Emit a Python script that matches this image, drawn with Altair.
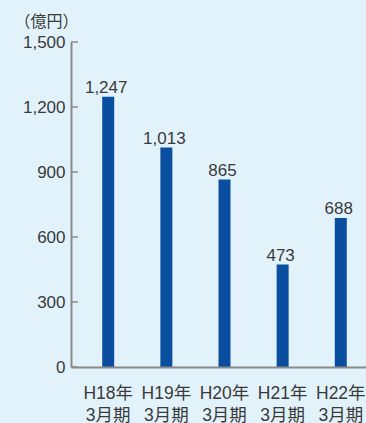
import altair as alt
import pandas as pd

years = ["H18年", "H19年", "H20年", "H21年", "H22年"]
periods = ["3月期", "3月期", "3月期", "3月期", "3月期"]
values = [1247, 1013, 865, 473, 688]
y_ticks = [0, 300, 600, 900, 1200, 1500]

cats = [f"{y}|{p}" for y, p in zip(years, periods)]
df = pd.DataFrame({"cat": cats, "value": values})
ticks_df = pd.DataFrame({"v": y_ticks})

FONT = "Liberation Sans, Arial, Noto Sans CJK JP, sans-serif"
TEXT = "#3a3a3a"
AXIS = "#8a8a8a"
BAR = "#0a4e9f"
BG = "#e2f2fb"

xscale = alt.Scale(range=[0, 307], paddingInner=0, paddingOuter=0.14)
yscale = alt.Scale(domain=[0, 1500], nice=False, zero=True, range=[325, 0])

xenc = alt.X(
    "cat:N", sort=cats, scale=xscale,
    axis=alt.Axis(
        title=None, labelAngle=0, ticks=False, tickSize=0,
        labelExpr="split(datum.label, '|')",
        labelFont=FONT, labelFontSize=17.5, labelLineHeight=22,
        labelPadding=17, labelColor=TEXT,
        domainColor=AXIS, domainWidth=2, zindex=1,
    ),
)
yenc = alt.Y(
    "value:Q", scale=yscale,
    axis=alt.Axis(
        values=y_ticks, format=",d", grid=False, ticks=False, tickSize=0,
        labelFont=FONT, labelFontSize=17, labelColor=TEXT, labelPadding=6,
        domainColor=AXIS, domainWidth=2, zindex=1,
        title="（億円）", titleAngle=0, titleAlign="left", titleBaseline="middle",
        titleX=-57, titleY=-21, titleFont=FONT, titleFontSize=16,
        titleFontWeight="normal", titleColor=TEXT,
    ),
)

bars = alt.Chart(df).mark_bar(size=12, color=BAR).encode(x=xenc, y=yenc)
labels = alt.Chart(df).mark_text(
    dy=-4, dx=-2, baseline="alphabetic", align="center",
    font=FONT, fontSize=17, color=TEXT,
).encode(
    x=alt.X("cat:N", sort=cats, scale=xscale),
    y=alt.Y("value:Q", scale=yscale),
    text=alt.Text("value:Q", format=",d"),
)
tick_marks = alt.Chart(ticks_df).mark_rule(color=AXIS, strokeWidth=1.5).encode(
    y=alt.Y("v:Q", scale=yscale), x=alt.value(0), x2=alt.value(7)
)

chart = alt.layer(bars, tick_marks, labels).properties(
    width=295, height=325,
    autosize=alt.AutoSizeParams(type="none"),
    padding={"left": 71, "top": 42, "right": 0, "bottom": 56},
    background=BG,
).configure_view(stroke=None)

chart.save("out.html", embed_options={"renderer": "svg", "actions": False})
